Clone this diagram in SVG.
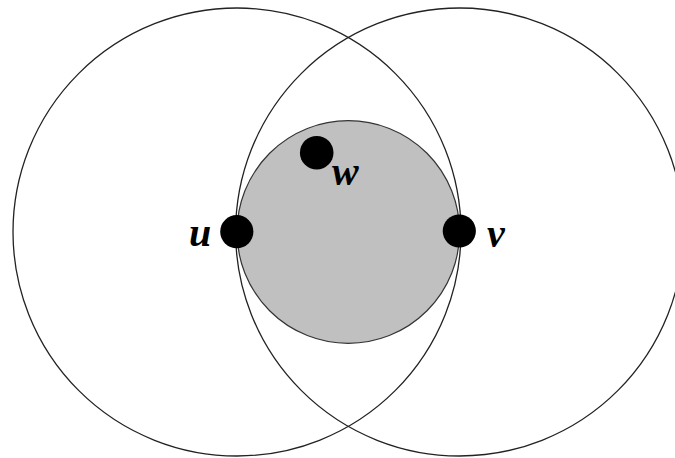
<svg xmlns="http://www.w3.org/2000/svg" width="675" height="458" viewBox="0 0 675 458">
<style>
.big{fill:none;stroke:#222;stroke-width:1.3}
.disk{fill:#c0c0c0;stroke:#333;stroke-width:1.2}
.dot{fill:#000}
.lbl{font-family:"Liberation Serif","Times New Roman",serif;font-style:italic;font-weight:bold;font-size:40px;fill:#000}
</style>
<rect width="675" height="458" fill="#fff"/>
<g id="disk-region"><circle class="disk" cx="348.3" cy="232" r="111.3"/></g>
<g id="circle-u"><circle class="big" cx="237" cy="232" r="224"/></g>
<g id="circle-v"><circle class="big" cx="459.6" cy="232" r="224"/></g>
<g id="node-w"><circle class="dot" cx="316.7" cy="152.7" r="16.8"/><text class="lbl" x="332" y="185">w</text></g>
<g id="node-u"><circle class="dot" cx="236.8" cy="231.7" r="16.6"/><text class="lbl" x="189" y="246">u</text></g>
<g id="node-v"><circle class="dot" cx="459.3" cy="231" r="16.6"/><text class="lbl" x="487" y="247">v</text></g>
</svg>
